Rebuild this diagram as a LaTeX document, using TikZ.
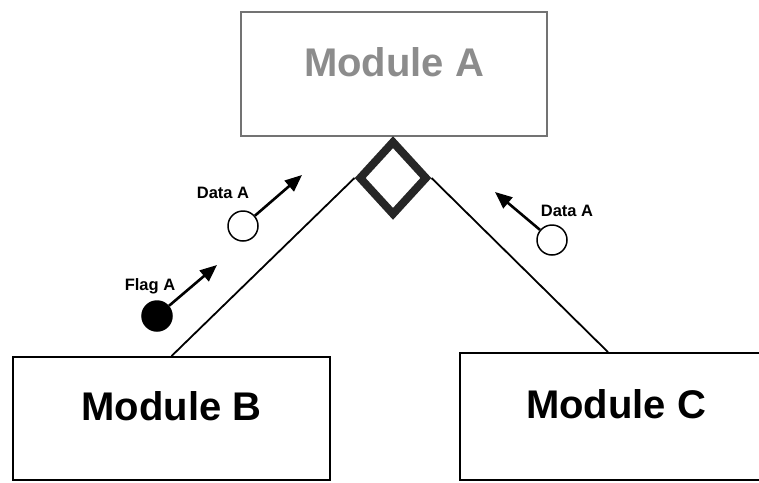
\documentclass[tikz,border=0pt]{standalone}
\usepackage{fontspec}
\setmainfont{Liberation Sans}
\usetikzlibrary{shapes.geometric,arrows.meta,positioning}

\begin{document}
\begin{tikzpicture}[x=1pt, y=-1pt,
        module/.style={draw, line width=1.8pt, inner sep=0pt, text height=30pt, text depth=26pt,
            font=\fontsize{40}{44}\selectfont\bfseries},
        link/.style={line width=1.8pt},
        datum/.style={circle, draw, line width=1.5pt, minimum size=30pt, inner sep=0pt},
        flow/.style={-{Triangle[length=17pt,width=14pt]}, line width=2.6pt},
        tag/.style={font=\fontsize{16.5}{18}\selectfont\bfseries}]
                \useasboundingbox (0,0) rectangle (759,482);

                \node[module, draw=black!55, line width=1.4pt, text=black!45, minimum width=306pt, minimum height=124pt] (modA) at (394,74) {Module A};
                \node[diamond, draw=black!85, line width=8pt, minimum width=69pt, minimum height=75pt, inner sep=0pt] (diam) at (393,178) {};
                \node[module, minimum width=317pt, minimum height=123pt] (modB) at (171.5,418.5) {Module B};
                \node[module, minimum width=312pt, minimum height=127pt] (modC) at (616,416.5) {Module C};

                \draw[link] (diam.west) -- (modB.north);
                \draw[link] (diam.east) -- ([xshift=-8pt]modC.north);

                \node[datum] (dataB) at (243,226) {};
                \node[datum, fill=black] (flagB) at (157,316) {};
                \node[datum] (dataC) at (552,240) {};

                \coordinate (dataBtip) at (302,175);
                \coordinate (flagBtip) at (217,265);
                \coordinate (dataCtip) at (495,192);

                \draw[flow] (dataB) -- (dataBtip);
                \draw[flow] (flagB) -- (flagBtip);
                \draw[flow] (dataC) -- (dataCtip);

                \node[tag] (dataBtag) at (223,193) {Data A};
                \node[tag] (flagBtag) at (150,286) {Flag A};
                \node[tag] (dataCtag) at (567,211) {Data A};
            \end{tikzpicture}
\end{document}
